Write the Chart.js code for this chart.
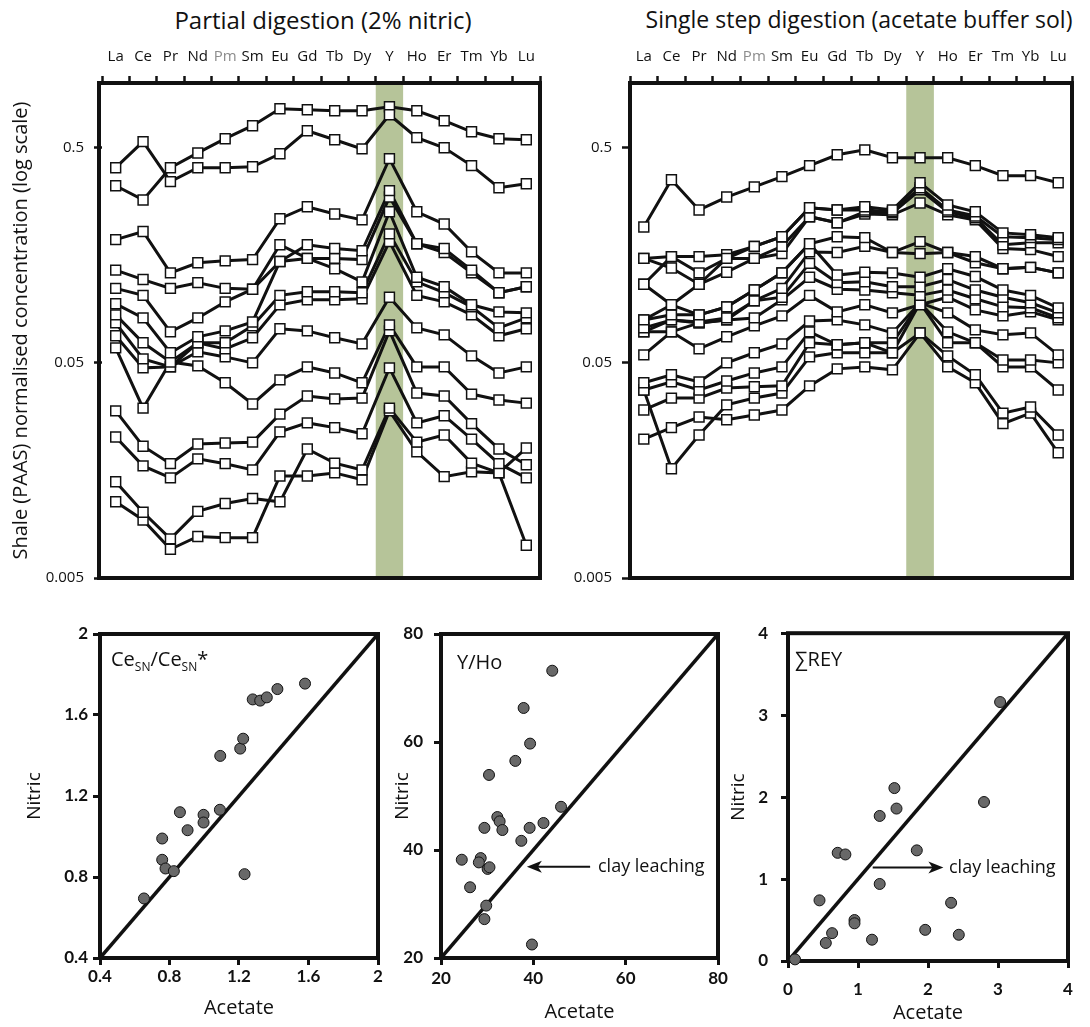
<!DOCTYPE html>
<html>
<head>
<meta charset="utf-8">
<script src="https://cdn.jsdelivr.net/npm/chart.js@4.4.1/dist/chart.umd.min.js"></script>
<style>
  body { margin:0; background:#fff; width:1090px; height:1027px; position:relative; overflow:hidden; font-family:"Open Sans", sans-serif; }
  canvas { position:absolute; }
  .head { position:absolute; top:3px; font-size:24px; color:#111; white-space:nowrap; transform:translateX(-50%); }
</style>
</head>
<body>
<div class="head" style="left:323px">Partial digestion (2% nitric)</div>
<div class="head" style="left:859px; font-size:23px">Single step digestion (acetate buffer sol)</div>

<canvas id="nitricREE"   width="560" height="600" style="left:0;top:0"></canvas>
<canvas id="acetateREE"  width="530" height="600" style="left:560px;top:0"></canvas>
<canvas id="ceAnomaly"   width="390" height="417" style="left:0;top:610px"></canvas>
<canvas id="yHoRatio"    width="355" height="417" style="left:380px;top:610px"></canvas>
<canvas id="sumREY"      width="370" height="417" style="left:720px;top:610px"></canvas>

<script>
const FONT = '"Open Sans", sans-serif';
const BOLD = 'Lato, "Liberation Sans", sans-serif';

const elements  = ['La','Ce','Pr','Nd','Pm','Sm','Eu','Gd','Tb','Dy','Y','Ho','Er','Tm','Yb','Lu'];
const concTicks = [0.005, 0.05, 0.5];

// PAAS-normalised REY, one row per sample (2% nitric leach)
const nitricProfiles = [
  [0.404, 0.534, 0.348, 0.404, 0.404, 0.408, 0.469, 0.600, 0.545, 0.494, 0.712, 0.557, 0.500, 0.413, 0.326, 0.340],
  [0.333, 0.286, 0.404, 0.473, 0.551, 0.633, 0.759, 0.751, 0.743, 0.743, 0.776, 0.743, 0.668, 0.593, 0.551, 0.545],
  [0.187, 0.204, 0.131, 0.146, 0.149, 0.151, 0.234, 0.266, 0.246, 0.231, 0.445, 0.252, 0.221, 0.164, 0.131, 0.131],
  [0.135, 0.122, 0.111, 0.118, 0.111, 0.110, 0.177, 0.153, 0.137, 0.119, 0.252, 0.125, 0.113, 0.0931, 0.0863, 0.0854],
  [0.111, 0.103, 0.0697, 0.0809, 0.0961, 0.110, 0.148, 0.177, 0.170, 0.166, 0.316, 0.179, 0.170, 0.135, 0.106, 0.113],
  [0.0941, 0.0809, 0.0557, 0.0661, 0.0704, 0.0775, 0.148, 0.153, 0.153, 0.151, 0.295, 0.179, 0.163, 0.131, 0.106, 0.113],
  [0.0836, 0.0620, 0.0505, 0.0620, 0.0620, 0.0743, 0.103, 0.107, 0.107, 0.106, 0.199, 0.119, 0.106, 0.0911, 0.0727, 0.0809],
  [0.0767, 0.0522, 0.0479, 0.0620, 0.0581, 0.0654, 0.0931, 0.0982, 0.0982, 0.0993, 0.183, 0.103, 0.0961, 0.0836, 0.0668, 0.0720],
  [0.0668, 0.0474, 0.0479, 0.0563, 0.0533, 0.0500, 0.0720, 0.0704, 0.0654, 0.0613, 0.101, 0.0727, 0.0675, 0.0539, 0.0449, 0.0479],
  [0.0587, 0.0308, 0.0505, 0.0484, 0.0404, 0.0322, 0.0417, 0.0479, 0.0449, 0.0404, 0.0751, 0.0479, 0.0479, 0.0358, 0.0336, 0.0325],
  [0.0299, 0.0205, 0.0170, 0.0210, 0.0212, 0.0214, 0.0289, 0.0351, 0.0340, 0.0343, 0.0704, 0.0362, 0.0351, 0.0261, 0.0199, 0.0168],
  [0.0226, 0.0166, 0.0146, 0.0179, 0.0170, 0.0159, 0.0239, 0.0263, 0.0250, 0.0234, 0.0474, 0.0263, 0.0284, 0.0221, 0.0170, 0.0146],
  [0.0140, 0.0101, 0.0076, 0.0102, 0.0111, 0.0117, 0.0113, 0.0199, 0.0171, 0.0159, 0.0308, 0.0214, 0.0231, 0.0171, 0.0154, 0.0201],
  [0.0113, 0.0093, 0.0068, 0.0078, 0.0077, 0.0077, 0.0149, 0.0149, 0.0154, 0.0143, 0.0299, 0.0193, 0.0148, 0.0156, 0.0154, 0.0071]
];

// same samples, acetate buffer digestion
const acetateProfiles = [
  [0.214, 0.355, 0.257, 0.295, 0.329, 0.367, 0.413, 0.464, 0.489, 0.449, 0.449, 0.449, 0.413, 0.371, 0.371, 0.344],
  [0.153, 0.138, 0.116, 0.153, 0.174, 0.193, 0.263, 0.257, 0.266, 0.257, 0.344, 0.271, 0.252, 0.201, 0.197, 0.191],
  [0.116, 0.156, 0.156, 0.159, 0.174, 0.193, 0.263, 0.257, 0.257, 0.252, 0.326, 0.257, 0.241, 0.193, 0.191, 0.187],
  [0.116, 0.0931, 0.116, 0.132, 0.153, 0.174, 0.239, 0.224, 0.252, 0.249, 0.319, 0.252, 0.236, 0.177, 0.181, 0.181],
  [0.153, 0.156, 0.131, 0.153, 0.153, 0.161, 0.239, 0.224, 0.246, 0.244, 0.277, 0.244, 0.231, 0.170, 0.168, 0.156],
  [0.0792, 0.0836, 0.0836, 0.0911, 0.109, 0.131, 0.179, 0.193, 0.191, 0.163, 0.183, 0.163, 0.156, 0.137, 0.139, 0.131],
  [0.0727, 0.0792, 0.0775, 0.0809, 0.0971, 0.111, 0.164, 0.163, 0.174, 0.163, 0.161, 0.163, 0.146, 0.137, 0.139, 0.131],
  [0.0792, 0.0931, 0.0836, 0.0911, 0.109, 0.131, 0.179, 0.128, 0.132, 0.131, 0.125, 0.137, 0.126, 0.109, 0.103, 0.0901],
  [0.0697, 0.0792, 0.0767, 0.0792, 0.0971, 0.101, 0.145, 0.118, 0.119, 0.113, 0.113, 0.122, 0.109, 0.101, 0.0951, 0.0854],
  [0.0697, 0.0697, 0.0767, 0.0792, 0.0809, 0.0982, 0.125, 0.110, 0.109, 0.106, 0.103, 0.109, 0.0993, 0.0911, 0.0901, 0.0809],
  [0.0545, 0.0697, 0.0581, 0.0661, 0.0743, 0.0827, 0.103, 0.0863, 0.0931, 0.0854, 0.0931, 0.101, 0.0882, 0.0827, 0.0863, 0.0792],
  [0.0404, 0.0440, 0.0408, 0.0500, 0.0557, 0.0613, 0.0783, 0.0792, 0.0751, 0.0689, 0.0951, 0.0854, 0.0712, 0.0675, 0.0689, 0.0545],
  [0.0374, 0.0408, 0.0374, 0.0412, 0.0449, 0.0479, 0.0697, 0.0607, 0.0620, 0.0620, 0.0951, 0.0697, 0.0620, 0.0516, 0.0516, 0.0500],
  [0.0302, 0.0343, 0.0343, 0.0382, 0.0387, 0.0391, 0.0620, 0.0607, 0.0620, 0.0557, 0.0951, 0.0620, 0.0620, 0.0479, 0.0479, 0.0374],
  [0.0374, 0.0161, 0.0231, 0.0319, 0.0343, 0.0362, 0.0533, 0.0557, 0.0557, 0.0557, 0.0689, 0.0539, 0.0440, 0.0292, 0.0312, 0.0231],
  [0.0221, 0.0250, 0.0280, 0.0272, 0.0286, 0.0302, 0.0391, 0.0469, 0.0479, 0.0464, 0.0689, 0.0479, 0.0404, 0.0261, 0.0292, 0.0191]
];

// acetate vs nitric cross-plots
const ceAcetate = [0.653, 0.758, 0.758, 0.777, 0.825, 0.860, 0.904, 0.996, 0.996, 1.090, 1.092, 1.207, 1.224, 1.232, 1.279, 1.322, 1.360, 1.421, 1.580];
const ceNitric  = [0.694, 0.990, 0.885, 0.842, 0.829, 1.120, 1.031, 1.107, 1.069, 1.132, 1.398, 1.434, 1.483, 0.814, 1.677, 1.671, 1.687, 1.728, 1.755];
const ceTicks   = [0.4, 0.8, 1.2, 1.6, 2];

const yHoAcetate = [24.5, 26.3, 28.6, 28.2, 29.4, 29.4, 29.8, 30.1, 30.5, 30.4, 32.2, 32.7, 33.3, 36.1, 37.4, 37.9, 39.2, 39.3, 39.7, 42.2, 44.1, 46.0];
const yHoNitric  = [38.2, 33.1, 38.5, 37.7, 44.1, 27.2, 29.7, 36.5, 36.8, 53.9, 46.1, 45.3, 43.7, 56.5, 41.7, 66.3, 44.1, 59.7, 22.5, 45.0, 73.2, 48.0];
const yHoTicks   = [20, 40, 60, 80];
const yHoArrow   = [[52.3, 36.9], [38.6, 36.9], [54.0, 36.9]];   // tail, tip, text

const reyAcetate = [0.10, 0.45, 0.54, 0.63, 0.71, 0.82, 0.95, 0.95, 1.20, 1.31, 1.31, 1.52, 1.55, 1.84, 1.96, 2.33, 2.44, 2.80, 3.03];
const reyNitric  = [0.02, 0.74, 0.22, 0.34, 1.32, 1.30, 0.50, 0.46, 0.26, 0.94, 1.77, 2.11, 1.86, 1.35, 0.38, 0.71, 0.32, 1.94, 3.16];
const reyTicks   = [0, 1, 2, 3, 4];
const reyArrow   = [[1.21, 1.14], [2.22, 1.14], [2.30, 1.14]];

// thick box round the plot area
const framePlugin = {
  id: 'frame',
  beforeDatasetsDraw(chart, args, opts) {
    const {ctx, chartArea: a} = chart;
    const ext = opts.extendLeft || 0;
    ctx.save();
    ctx.lineWidth = 4;
    ctx.strokeStyle = '#111';
    ctx.strokeRect(a.left - ext, a.top, a.right - a.left + ext, a.bottom - a.top);
    ctx.restore();
  }
};

// shaded column behind one element
const bandPlugin = {
  id: 'band',
  beforeDatasetsDraw(chart, args, opts) {
    if (!opts.element) return;
    const {ctx, chartArea: a, scales: {x}} = chart;
    const i = elements.indexOf(opts.element);
    const c = x.getPixelForValue(i);
    const w = x.getPixelForValue(i + 1) - c;
    ctx.save();
    ctx.fillStyle = opts.color;
    ctx.fillRect(c - w / 2, a.top, w, a.bottom - a.top);
    ctx.restore();
  }
};

// panel label and arrow for the cross-plots
const notesPlugin = {
  id: 'notes',
  afterDatasetsDraw(chart, args, o) {
    if (!o.label) return;
    const {ctx, chartArea: a, scales: {x, y}} = chart;
    ctx.save();
    ctx.fillStyle = '#111';
    ctx.textBaseline = 'middle';
    let px = a.left + o.dx;
    const py = a.top + o.dy;
    o.label.forEach(seg => {
      ctx.font = (seg.sub ? 12 : 20) + 'px ' + FONT;
      ctx.fillText(seg.t, px, py + (seg.sub ? 8 : 0));
      px += ctx.measureText(seg.t).width;
    });
    if (o.arrow) {
      const [tail, tip, txt] = o.arrow;
      const x0 = x.getPixelForValue(tail[0]), y0 = y.getPixelForValue(tail[1]);
      const x1 = x.getPixelForValue(tip[0]),  y1 = y.getPixelForValue(tip[1]);
      const dir = Math.sign(x1 - x0);
      ctx.strokeStyle = '#111';
      ctx.lineWidth = 2;
      ctx.beginPath();
      ctx.moveTo(x0, y0);
      ctx.lineTo(x1 - dir * 10, y1);
      ctx.stroke();
      ctx.beginPath();
      ctx.moveTo(x1, y1);
      ctx.lineTo(x1 - dir * 15, y1 - 6);
      ctx.lineTo(x1 - dir * 11, y1);
      ctx.lineTo(x1 - dir * 15, y1 + 6);
      ctx.closePath();
      ctx.fill();
      ctx.font = '18px ' + FONT;
      ctx.fillText('clay leaching', x.getPixelForValue(txt[0]), y.getPixelForValue(txt[1]));
    }
    ctx.restore();
  }
};

function profileChart(id, profiles, yWidth, padRight, extendLeft, yTitle) {
  const lines = profiles.map(p => ({
    data: p, borderColor: '#111', borderWidth: 3, pointRadius: 0, order: 2
  }));
  const marks = profiles.map(p => ({
    data: p, showLine: false, pointStyle: 'rect', pointRadius: 7,
    pointBackgroundColor: '#fff', pointBorderColor: '#111', pointBorderWidth: 1.5, order: 1
  }));
  return new Chart(document.getElementById(id), {
    type: 'line',
    data: { labels: elements, datasets: lines.concat(marks) },
    options: {
      responsive: false, animation: false, events: [],
      layout: { padding: { top: 0, left: 0, right: padRight, bottom: 22 } },
      plugins: {
        legend: { display: false }, tooltip: { enabled: false },
        band: { element: 'Y', color: '#b6c499' },
        frame: { extendLeft: extendLeft }
      },
      scales: {
        x: {
          type: 'category', position: 'top', offset: true,
          grid: { offset: true, drawOnChartArea: false, tickLength: 7, tickWidth: 2.5, tickColor: '#111' },
          border: { display: false },
          ticks: {
            autoSkip: false, maxRotation: 0, padding: 10,
            font: { family: FONT, size: 15 },
            color: c => elements[c.index] === 'Pm' ? '#8c8c8c' : '#111'
          },
          afterFit: s => { s.height = 83; }
        },
        y: {
          type: 'logarithmic', min: 0.005, max: 1,
          afterBuildTicks: s => { s.ticks = concTicks.map(v => ({ value: v })); },
          grid: { drawOnChartArea: false, tickLength: 8, tickWidth: 2.5, tickColor: '#111' },
          border: { display: false },
          ticks: { padding: 10, font: { family: FONT, size: 15 }, color: '#111', callback: v => String(v) },
          title: {
            display: !!yTitle, text: yTitle || '', color: '#111',
            font: { family: FONT, size: 20 }, padding: { top: 9, bottom: 0 }
          },
          afterFit: s => { s.width = yWidth; }
        }
      }
    },
    plugins: [bandPlugin, framePlugin]
  });
}

function crossPlot(id, xs, ys, ticks, g, notes) {
  const lo = ticks[0], hi = ticks[ticks.length - 1];
  const tickFont = { family: BOLD, size: 17, weight: 'bold' };
  return new Chart(document.getElementById(id), {
    type: 'scatter',
    data: {
      datasets: [
        {
          data: xs.map((v, i) => ({ x: v, y: ys[i] })),
          pointRadius: 5.5, pointBackgroundColor: '#686868', pointBorderColor: '#111',
          pointBorderWidth: 1, order: 1, clip: false
        },
        {
          data: [{ x: lo, y: lo }, { x: hi, y: hi }],
          showLine: true, borderColor: '#111', borderWidth: 3.5, pointRadius: 0, order: 2
        }
      ]
    },
    options: {
      responsive: false, animation: false, events: [],
      layout: { padding: { top: g.top, left: 0, right: g.right, bottom: 0 } },
      plugins: { legend: { display: false }, tooltip: { enabled: false }, notes: notes },
      scales: {
        x: {
          type: 'linear', min: lo, max: hi,
          afterBuildTicks: s => { s.ticks = ticks.map(v => ({ value: v })); },
          grid: { drawOnChartArea: false, tickLength: 7, tickWidth: 3, tickColor: '#111' },
          border: { display: false },
          ticks: { padding: g.xPad, font: tickFont, color: '#111', callback: v => String(v) },
          title: {
            display: true, text: 'Acetate', color: '#111',
            font: { family: FONT, size: 20 }, padding: { top: 0, bottom: g.xTitlePad }
          },
          afterFit: s => { s.height = g.xHeight; }
        },
        y: {
          type: 'linear', min: lo, max: hi,
          afterBuildTicks: s => { s.ticks = ticks.map(v => ({ value: v })); },
          grid: { drawOnChartArea: false, tickLength: 7, tickWidth: 3, tickColor: '#111' },
          border: { display: false },
          ticks: { padding: g.yPad, font: tickFont, color: '#111', callback: v => String(v) },
          title: {
            display: true, text: 'Nitric', color: '#111',
            font: { family: FONT, size: 19 }, padding: { top: g.yTitlePad, bottom: 0 }
          },
          afterFit: s => { s.width = g.yWidth; }
        }
      }
    },
    plugins: [framePlugin, notesPlugin]
  });
}

profileChart('nitricREE', nitricProfiles, 102, 20, 3, 'Shale (PAAS) normalised concentration (log scale)');
profileChart('acetateREE', acetateProfiles, 70, 18, 0, null);

crossPlot('ceAnomaly', ceAcetate, ceNitric, ceTicks,
  { top: 24, right: 12, yWidth: 100, xHeight: 69, xPad: 1, yPad: 5, xTitlePad: 7, yTitlePad: 23 },
  { dx: 11, dy: 26, label: [{ t: 'Ce' }, { t: 'SN', sub: true }, { t: '/Ce' }, { t: 'SN', sub: true }, { t: '*' }] });

crossPlot('yHoRatio', yHoAcetate, yHoNitric, yHoTicks,
  { top: 24, right: 17, yWidth: 61, xHeight: 69, xPad: 3, yPad: 11, xTitlePad: 3, yTitlePad: 11 },
  { dx: 16, dy: 29, label: [{ t: 'Y/Ho' }], arrow: yHoArrow });

crossPlot('sumREY', reyAcetate, reyNitric, reyTicks,
  { top: 23, right: 22, yWidth: 68, xHeight: 66, xPad: 11, yPad: 13, xTitlePad: 2, yTitlePad: 7 },
  { dx: 7, dy: 27, label: [{ t: '\u2211REY' }], arrow: reyArrow });
</script>
</body>
</html>
